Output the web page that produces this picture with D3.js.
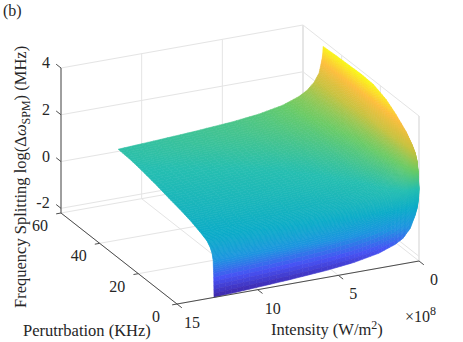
<!DOCTYPE html>
<html>
<head>
<meta charset="utf-8">
<script src="https://cdn.jsdelivr.net/npm/d3@7"></script>
<style>
  html, body { margin: 0; padding: 0; background: #fff; }
  svg { display: block; }
  text { font-family: "Liberation Serif", serif; fill: #262626; }
</style>
</head>
<body>
<div id="chart"></div>
<script>
// tick values
const intensityTicks = [0, 5, 10, 15];
const perturbationTicks = [0, 20, 40, 60];
const splittingTicks = [-2, 0, 2, 4];

// surface grid (intensity in 1e8 W/m2, perturbation in KHz)
const intensityGrid = [0, 0.02, 0.06, 0.12, 0.25, 0.55, 1, 1.5, 2.5, 4, 5.65, 8, 10.5, 12.7];
const perturbationGrid = [49.6, 43, 37.4, 30, 23.6, 17, 12, 6.7, 3.6, 2, 1, 0.5, 0.25, 0.05];

// log splitting, one row per perturbation value
const row50 = [3.76, 3.45, 3.25, 3.05, 2.65, 2.30, 2.00, 1.80, 1.55, 1.35, 1.22, 1.10, 1.00, 0.92];
const row43 = [3.80, 3.42, 3.21, 3.01, 2.61, 2.26, 1.96, 1.76, 1.51, 1.31, 1.18, 1.06, 0.96, 0.88];
const row37 = [3.82, 3.36, 3.14, 2.93, 2.53, 2.18, 1.88, 1.68, 1.43, 1.23, 1.10, 0.98, 0.88, 0.80];
const row30 = [3.85, 3.25, 3.02, 2.80, 2.40, 2.05, 1.75, 1.55, 1.30, 1.10, 0.97, 0.85, 0.75, 0.67];
const row24 = [3.82, 3.12, 2.88, 2.66, 2.26, 1.91, 1.61, 1.41, 1.16, 0.96, 0.83, 0.71, 0.61, 0.53];
const row17 = [3.60, 2.98, 2.74, 2.53, 2.13, 1.78, 1.48, 1.28, 1.03, 0.83, 0.70, 0.58, 0.48, 0.40];
const row12 = [3.30, 2.84, 2.62, 2.41, 2.01, 1.66, 1.36, 1.16, 0.91, 0.71, 0.58, 0.46, 0.36, 0.28];
const row7 = [2.90, 2.64, 2.43, 2.23, 1.83, 1.48, 1.18, 0.98, 0.73, 0.53, 0.40, 0.28, 0.18, 0.10];
const row4 = [2.55, 2.45, 2.30, 2.10, 1.70, 1.35, 1.05, 0.85, 0.60, 0.40, 0.27, 0.15, 0.05, -0.03];
const row2 = [2.30, 2.25, 2.12, 1.93, 1.53, 1.18, 0.88, 0.68, 0.43, 0.23, 0.10, -0.02, -0.12, -0.20];
const row1 = [2.00, 1.98, 1.90, 1.73, 1.33, 0.98, 0.68, 0.48, 0.23, 0.03, -0.10, -0.22, -0.32, -0.40];
const rowHalf = [1.60, 1.58, 1.55, 1.47, 1.07, 0.72, 0.42, 0.22, -0.03, -0.23, -0.36, -0.48, -0.58, -0.66];
const rowQuarter = [1.20, 1.18, 1.12, 0.93, 0.53, 0.18, -0.12, -0.32, -0.57, -0.77, -0.90, -1.02, -1.12, -1.20];
const rowEdge = [0.90, 0.55, 0.30, 0.05, -0.25, -0.75, -1.12, -1.32, -1.57, -1.77, -1.90, -2.02, -2.12, -2.20];
const splittingRows = [row50, row43, row37, row30, row24, row17, row12, row7, row4, row2, row1, rowHalf, rowQuarter, rowEdge];

// parula
const parulaStops = [0, 0.125, 0.25, 0.375, 0.5, 0.625, 0.75, 0.875, 1];
const parulaColors = ["#3e26a8", "#4752f4", "#1e94e0", "#0babc8", "#26beb0", "#6acb66", "#c7c23f", "#fdbd3c", "#f9fb15"];

const width = 463, height = 342;
const zMin = -2.2, zMax = 4;

const svg = d3.select("#chart").append("svg")
    .attr("width", width)
    .attr("height", height);

// oblique projection, each data axis adds its own screen offset
const xFromI = d3.scaleLinear().domain([0, 15]).range([419, 177]);
const yFromI = d3.scaleLinear().domain([0, 15]).range([261, 304]);
const xFromP = d3.scaleLinear().domain([0, 60]).range([0, -116]);
const yFromP = d3.scaleLinear().domain([0, 60]).range([0, -91]);
const yFromZ = d3.scaleLinear().domain([zMin, 4]).range([0, -145]);

function project(i, p, z) {
    return [xFromI(i) + xFromP(p), yFromI(i) + yFromP(p) + yFromZ(z)];
}

const color = d3.scaleLinear()
    .domain(parulaStops.map(t => zMin + t * (3.85 - zMin)))
    .range(parulaColors)
    .clamp(true);

function drawLine(points, stroke, strokeWidth) {
    svg.append("path")
        .attr("d", d3.line()(points))
        .attr("fill", "none")
        .attr("stroke", stroke)
        .attr("stroke-width", strokeWidth);
}

const gridColor = "#e4e4e4", axisColor = "#4d4d4d";

// grid on the two walls and the floor
splittingTicks.forEach(z => {
    drawLine([project(15, 60, z), project(0, 60, z), project(0, 0, z)], gridColor, 1);
});
intensityTicks.forEach(i => {
    drawLine([project(i, 0, zMin), project(i, 60, zMin), project(i, 60, 4)], gridColor, 1);
});
perturbationTicks.forEach(p => {
    drawLine([project(15, p, zMin), project(0, p, zMin), project(0, p, 4)], gridColor, 1);
});
drawLine([project(0, 0, zMin), project(0, 0, 4)], gridColor, 1.5);
drawLine([project(0, 60, zMin), project(0, 60, 4)], gridColor, 1.5);

// surface, painted back to front, each grid cell split into small tiles
const tiles = [];
const steps = 6;
for (let r = 0; r < perturbationGrid.length - 1; r++) {
    for (let s = 0; s < steps; s++) {
        for (let c = 0; c < intensityGrid.length - 1; c++) {
            for (let t = 0; t < steps; t++) {
                const corner = (a, b) => {
                    const u = (s + a) / steps, v = (t + b) / steps;
                    const p = perturbationGrid[r] + u * (perturbationGrid[r + 1] - perturbationGrid[r]);
                    const i = intensityGrid[c] + v * (intensityGrid[c + 1] - intensityGrid[c]);
                    const top = splittingRows[r][c] + v * (splittingRows[r][c + 1] - splittingRows[r][c]);
                    const bot = splittingRows[r + 1][c] + v * (splittingRows[r + 1][c + 1] - splittingRows[r + 1][c]);
                    return { i, p, z: top + u * (bot - top) };
                };
                const q = [corner(0, 0), corner(0, 1), corner(1, 1), corner(1, 0)];
                tiles.push({ pts: q.map(d => project(d.i, d.p, d.z)), z: d3.mean(q, d => d.z) });
            }
        }
    }
}
svg.append("g").selectAll("path")
    .data(tiles)
    .join("path")
    .attr("d", d => d3.line()(d.pts) + "Z")
    .attr("fill", d => color(d.z))
    .attr("stroke", d => color(d.z))
    .attr("stroke-width", 0.6);

// axis lines
drawLine([project(15, 60, zMin), project(15, 60, 4)], axisColor, 1);
drawLine([project(15, 60, zMin), project(15, 0, zMin)], axisColor, 1);
drawLine([project(15, 0, zMin), project(0, 0, zMin)], axisColor, 1);

// ticks and tick labels
function tickLabel(pos, dx, dy, label) {
    svg.append("text")
        .attr("x", pos[0] + dx)
        .attr("y", pos[1] + dy)
        .attr("text-anchor", "middle")
        .attr("font-size", 16)
        .text(label);
}

splittingTicks.forEach(z => {
    drawLine([project(15, 60, z), project(15, 62.5, z)], axisColor, 1);
    tickLabel(project(15, 60, z), z < 0 ? -18 : -15, 0, z < 0 ? "-" + Math.abs(z) : z);
});
perturbationTicks.forEach(p => {
    drawLine([project(15, p, zMin), project(15.3, p, zMin)], axisColor, 1);
    tickLabel(project(15, p, zMin), -21, 18, p);
});
intensityTicks.forEach(i => {
    drawLine([project(i, 0, zMin), project(i, -2.5, zMin)], axisColor, 1);
    tickLabel(project(i, 0, zMin), 15, 24, i);
});

// exponent
const exponent = svg.append("text").attr("x", 405).attr("y", 322).attr("font-size", 16);
exponent.append("tspan").text("\u00d710");
exponent.append("tspan").attr("dy", -7).attr("font-size", 12).text("8");

// axis labels
svg.append("text")
    .attr("x", 3).attr("y", 16)
    .attr("font-size", 16)
    .text("(b)");

svg.append("text")
    .attr("x", 23).attr("y", 336)
    .attr("font-size", 16.5)
    .text("Perutrbation (KHz)");

const xLabel = svg.append("text").attr("x", 271).attr("y", 335).attr("font-size", 16.5);
xLabel.append("tspan").text("Intensity (W/m");
xLabel.append("tspan").attr("dy", -6).attr("font-size", 12).text("2");
xLabel.append("tspan").attr("dy", 6).text(")");

const zLabel = svg.append("text")
    .attr("transform", "translate(26,308) rotate(-90)")
    .attr("font-size", 16.5);
zLabel.append("tspan").text("Frequency Splitting log(\u0394");
zLabel.append("tspan").attr("font-style", "italic").text("\u03c9");
zLabel.append("tspan").attr("dy", 4).attr("font-size", 12).text("SPM");
zLabel.append("tspan").attr("dy", -4).text(") (MHz)");
</script>
</body>
</html>
